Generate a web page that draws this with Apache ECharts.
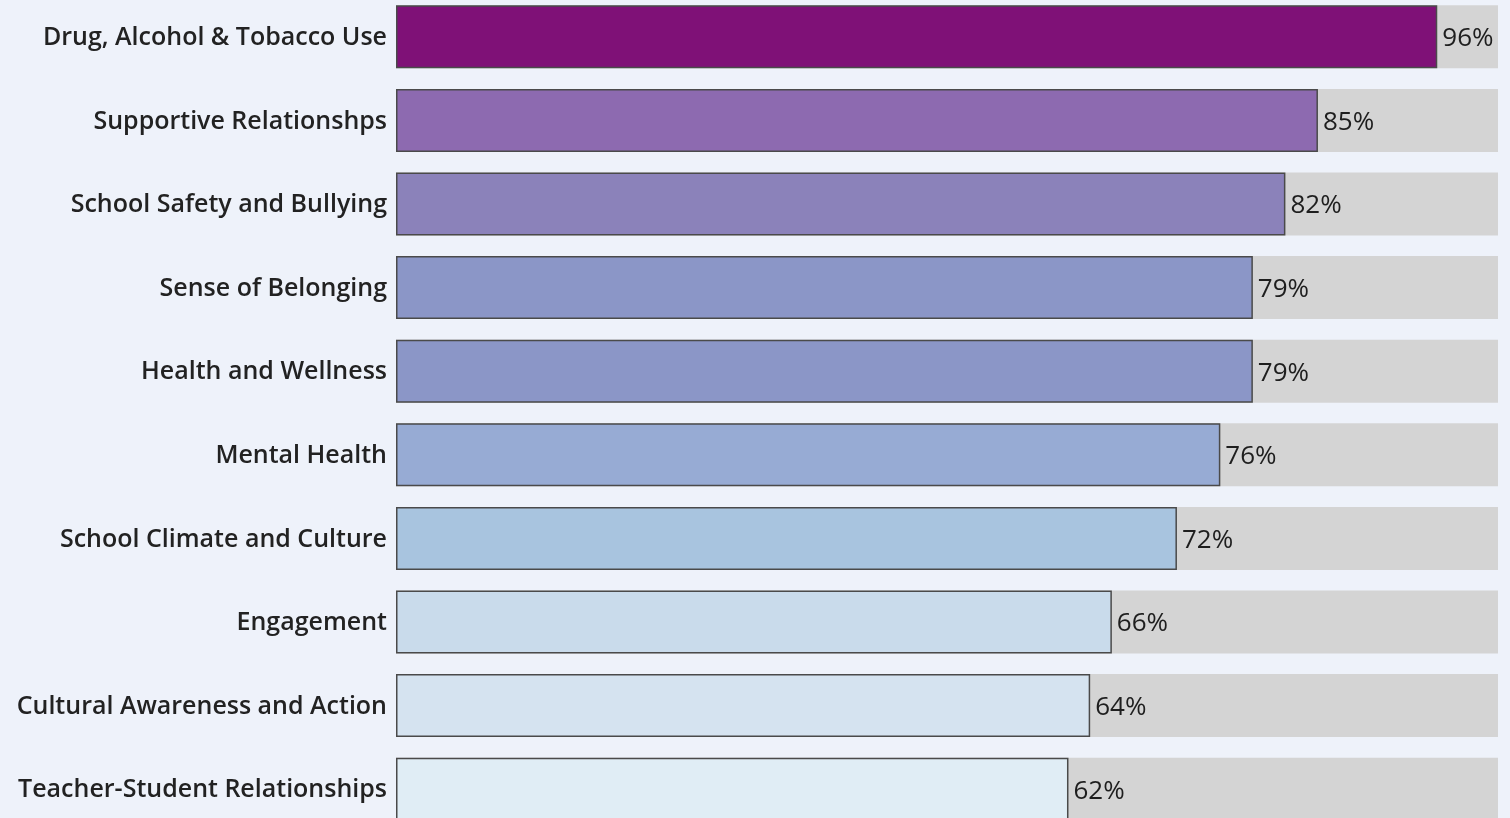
<!DOCTYPE html>
<html>
<head>
<meta charset="utf-8">
<script src="https://cdn.jsdelivr.net/npm/echarts@6/dist/echarts.min.js"></script>
<style>
  html, body { margin: 0; padding: 0; background: #eef2fa; }
  #chart-container { width: 1510px; height: 818px; }
</style>
</head>
<body>
<div id="chart-container"></div>
<script>
// categories, top to bottom
var categories = [
    'Drug, Alcohol & Tobacco Use',
    'Supportive Relationshps',
    'School Safety and Bullying',
    'Sense of Belonging',
    'Health and Wellness',
    'Mental Health',
    'School Climate and Culture',
    'Engagement',
    'Cultural Awareness and Action',
    'Teacher-Student Relationships'
];
// percent favourable
var values = [96, 85, 82, 79, 79, 76, 72, 66, 64, 62];
var barColors = [
    '#7f1177', '#8d6ab0', '#8b82ba', '#8b96c7', '#8b96c7',
    '#97abd4', '#a8c4df', '#c9dbeb', '#d5e3f0', '#e0edf5'
];

var dom = document.getElementById('chart-container');
var myChart = echarts.init(dom, null, { renderer: 'canvas' });

var option = {
    backgroundColor: '#eef2fa',
    textStyle: { fontFamily: 'Open Sans' },
    grid: {
        left: 396, right: 12, top: -5, height: 836,
        containLabel: false,
        outerBoundsMode: 'none'
    },
    xAxis: {
        type: 'value',
        min: 0,
        max: 101.6,
        show: false
    },
    yAxis: {
        type: 'category',
        inverse: true,
        data: categories,
        axisLine: { show: false },
        axisTick: { show: false },
        axisLabel: {
            margin: 9,
            color: '#222',
            fontSize: 25,
            fontWeight: 600,
            fontFamily: 'Open Sans',
            verticalAlign: 'top',
            lineHeight: 30,
            padding: [-14, 0, 0, 0]
        }
    },
    series: [{
        type: 'bar',
        barWidth: 63,
        showBackground: true,
        backgroundStyle: { color: '#d4d4d4' },
        data: values.map(function (v, i) {
            return { value: v, itemStyle: { color: barColors[i] } };
        }),
        itemStyle: { borderColor: '#4a4a4a', borderWidth: 1.5 },
        label: {
            show: true,
            position: 'right',
            distance: 5,
            offset: [0, 2],
            formatter: '{c}%',
            color: '#1e1e1e',
            fontSize: 26,
            fontFamily: 'Open Sans'
        },
        animation: false
    }]
};

myChart.setOption(option);
window.addEventListener('resize', myChart.resize);
</script>
</body>
</html>
